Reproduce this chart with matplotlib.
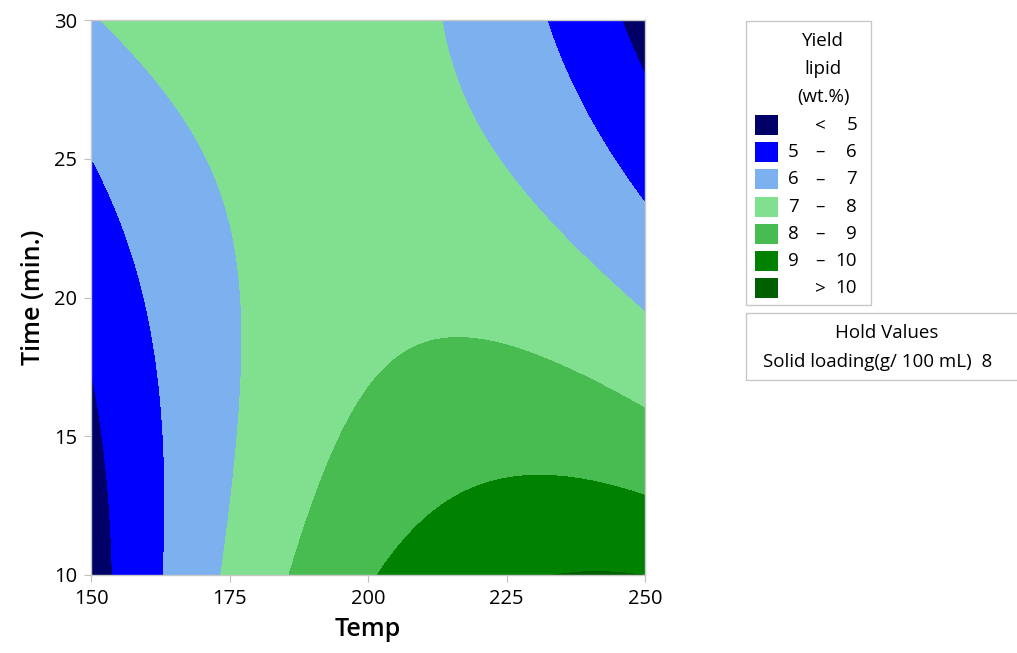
import numpy as np
import matplotlib
matplotlib.use("Agg")
import matplotlib.pyplot as plt
from matplotlib.patches import Rectangle

plt.rcParams['font.family'] = ['Open Sans', 'DejaVu Sans']

level_5_temp = [150.0, 151.75, 153.9, 245.8, 250.0]
level_5_time = [17.55, 15.15, 10.0, 30.0, 28.2]
level_6_temp = [150.0, 154.6, 158.2, 159.9, 162.8, 163.1, 232.3, 238.3, 250.0]
level_6_time = [25.0, 23.2, 20.8, 20.0, 15.15, 10.0, 30.0, 26.8, 23.47]
level_7_temp = [151.3, 166.1, 171.2, 175.8, 177.1, 177.2, 176.3, 173.6,
                213.6, 219.0, 229.2, 241.9, 250.0]
level_7_time = [30.0, 26.8, 25.0, 22.0, 20.0, 17.5, 15.15, 10.0,
                30.0, 26.8, 23.2, 20.8, 19.65]
level_8_temp = [185.8, 190.1, 193.7, 197.9, 202.2, 206.7, 217.8, 226.2, 235.9, 250.0]
level_8_time = [10.0, 12.73, 15.15, 16.35, 17.2, 18.03, 18.45, 18.15, 17.4, 16.04]
level_9_temp = [202.5, 206.7, 212.4, 222.0, 232.9, 241.9, 250.0]
level_9_time = [10.0, 11.53, 12.5, 13.4, 13.57, 13.33, 12.85]
level_10_temp = [240.0, 248.0]
level_10_time = [10.05, 10.05]

band_edges = [5, 6, 7, 8, 9, 10]
band_labels = [("", "<", "5"), ("5", "\u2013", "6"), ("6", "\u2013", "7"),
               ("7", "\u2013", "8"), ("8", "\u2013", "9"), ("9", "\u2013", "10"),
               ("", ">", "10")]
band_colors = ['#000066', '#0000FF', '#7CB0EE', '#80E090', '#48BC50', '#008200', '#006000']
hold_name = "Solid loading(g/ 100 mL)"
hold_value = 8


def fit_surface():
    # full quadratic response surface fitted to the read boundary points
    lv, tt, tm = [], [], []
    groups = [(5, level_5_temp, level_5_time), (6, level_6_temp, level_6_time),
              (7, level_7_temp, level_7_time), (8, level_8_temp, level_8_time),
              (9, level_9_temp, level_9_time), (10, level_10_temp, level_10_time)]
    for lev, ts, ms in groups:
        lv += [lev] * len(ts)
        tt += ts
        tm += ms
    x = (np.array(tt) - 200) / 50
    y = (np.array(tm) - 20) / 10
    A = np.column_stack([np.ones_like(x), x, y, x * x, y * y, x * y])
    coef, *_ = np.linalg.lstsq(A, np.array(lv, dtype=float), rcond=None)
    return coef


coef = fit_surface()
T, M = np.meshgrid(np.linspace(150, 250, 301), np.linspace(10, 30, 301))
X, Y = (T - 200) / 50, (M - 20) / 10
Z = coef[0] + coef[1] * X + coef[2] * Y + coef[3] * X**2 + coef[4] * Y**2 + coef[5] * X * Y

fig = plt.figure(figsize=(10.17, 6.53), dpi=100)
ax = fig.add_axes([91 / 1017, 78 / 653, 554 / 1017, 555 / 653])
levels = [min(Z.min(), 4) - 1] + band_edges + [max(Z.max(), 11) + 1]
ax.contourf(T, M, Z, levels=levels, colors=band_colors)
ax.set_xlim(150, 250)
ax.set_ylim(10, 30)
ax.set_xticks([150, 175, 200, 225, 250])
ax.set_yticks([10, 15, 20, 25, 30])
for s in ax.spines.values():
    s.set_color('#C8C8C8')
    s.set_linewidth(1)
ax.tick_params(direction='out', length=5, color='#BFBFBF', labelsize=14.5, pad=5)
ax.set_xlabel('Temp', fontsize=18, fontweight='semibold', labelpad=6)
ax.set_ylabel('Time (min.)', fontsize=18, fontweight='semibold', labelpad=6)

# overlay in pixel coordinates for the legend boxes
ov = fig.add_axes([0, 0, 1, 1])
ov.set_xlim(0, 1017)
ov.set_ylim(653, 0)
ov.axis('off')
ov.add_patch(Rectangle((746, 21), 125, 284, fill=False, ec='#C8C8C8', lw=1))
fs = 13.5
for i, line in enumerate(["Yield", "lipid", "(wt.%)"]):
    ov.text(823, 41 + i * 28, line, ha='center', va='center', fontsize=fs, fontweight='medium')
for i, (lo, sign, hi) in enumerate(band_labels):
    yc = 125 + i * 27.2
    ov.add_patch(Rectangle((755, yc - 10), 23, 20, fc=band_colors[i], ec='none'))
    ov.text(788, yc, lo, ha='left', va='center', fontsize=fs, fontweight='medium')
    ov.text(820, yc, sign, ha='center', va='center', fontsize=fs, fontweight='medium')
    ov.text(857, yc, hi, ha='right', va='center', fontsize=fs, fontweight='medium')
ov.add_patch(Rectangle((746, 313), 300, 67, fill=False, ec='#C8C8C8', lw=1, clip_on=False))
ov.text(887, 333, "Hold Values", ha='center', va='center', fontsize=fs, fontweight='medium')
ov.text(763, 362, f"{hold_name}  {hold_value}", ha='left', va='center', fontsize=fs,
        fontweight='medium')

fig.savefig('out.png', dpi=100)
